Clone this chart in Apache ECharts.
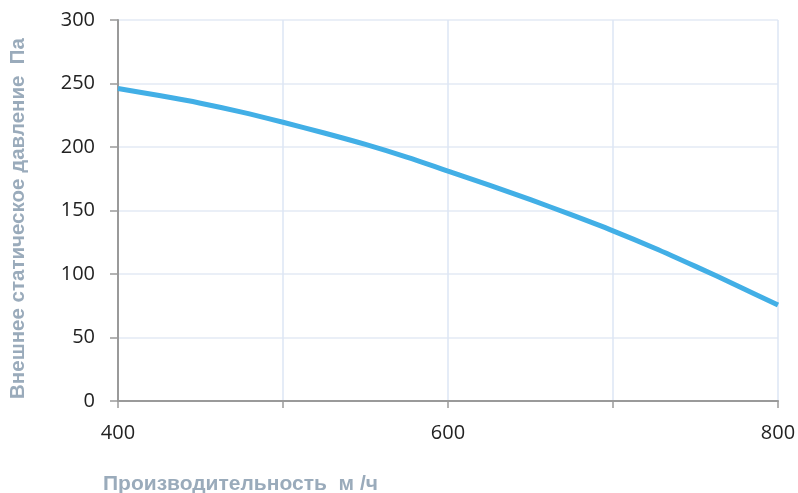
<!DOCTYPE html>
<html>
<head>
<meta charset="utf-8">
<script src="https://cdn.jsdelivr.net/npm/echarts@6/dist/echarts.min.js"></script>
<style>
html,body{margin:0;padding:0;background:#fff;}
#c{width:798px;height:493px;}
</style>
</head>
<body>
<div id="c"></div>
<script>
var flowValues = [400, 425, 450, 475, 500, 525, 550, 575, 600, 625, 650, 675, 700, 725, 750, 775, 800];
var pressureValues = [246, 240.5, 234.5, 227.5, 219.5, 211, 202, 192, 181, 170, 158.5, 146.5, 134, 120.5, 106, 91, 75.5];
var xTickLabels = {400: '400', 600: '600', 800: '800'};
var yTickValues = [0, 50, 100, 150, 200, 250, 300];
var xAxisName = 'Производительность  м /ч';
var yAxisName = 'Внешнее статическое давление  Па';

var seriesData = flowValues.map(function (x, i) { return [x, pressureValues[i]]; });

var chart = echarts.init(document.getElementById('c'), null, {renderer: 'canvas'});
chart.setOption({
  animation: false,
  backgroundColor: '#ffffff',
  grid: {left: 118, right: 20, top: 20, bottom: 92, containLabel: false, outerBoundsMode: 'none'},
  title: {
    text: xAxisName,
    left: 98,
    top: 469,
    textStyle: {fontFamily: 'Liberation Sans, Arial, sans-serif', fontSize: 21, fontWeight: 'bold', color: '#9aabbb'}
  },
  xAxis: {
    type: 'value',
    min: 400,
    max: 800,
    interval: 100,
    axisLine: {show: true, onZero: false, lineStyle: {color: '#9a9a9a', width: 2}},
    axisTick: {show: true, length: 7, lineStyle: {color: '#9a9a9a', width: 1.5}},
    axisLabel: {
      margin: 22,
      fontFamily: 'Open Sans, sans-serif',
      fontSize: 20,
      color: '#222222',
      formatter: function (v) { return xTickLabels[v] || ''; }
    },
    splitLine: {show: true, lineStyle: {color: '#dde6f4', width: 1.5}}
  },
  yAxis: {
    type: 'value',
    min: yTickValues[0],
    max: yTickValues[yTickValues.length - 1],
    interval: 50,
    name: yAxisName,
    nameLocation: 'middle',
    nameGap: 89,
    nameRotate: 90,
    nameTextStyle: {fontFamily: 'Liberation Sans, Arial, sans-serif', fontSize: 20.5, fontWeight: 'bold', color: '#9aabbb', padding: [0, 16, 0, 0]},
    axisLine: {show: true, lineStyle: {color: '#9a9a9a', width: 2}},
    axisTick: {show: true, length: 8, lineStyle: {color: '#9a9a9a', width: 1.5}},
    axisLabel: {margin: 23, fontFamily: 'Open Sans, sans-serif', fontSize: 20, color: '#222222'},
    splitLine: {show: true, lineStyle: {color: '#e3eaf5', width: 1.5}}
  },
  series: [{
    type: 'line',
    data: seriesData,
    smooth: 0.3,
    showSymbol: false,
    lineStyle: {color: '#42afe6', width: 5},
    itemStyle: {color: '#42afe6'}
  }]
});
</script>
</body>
</html>
